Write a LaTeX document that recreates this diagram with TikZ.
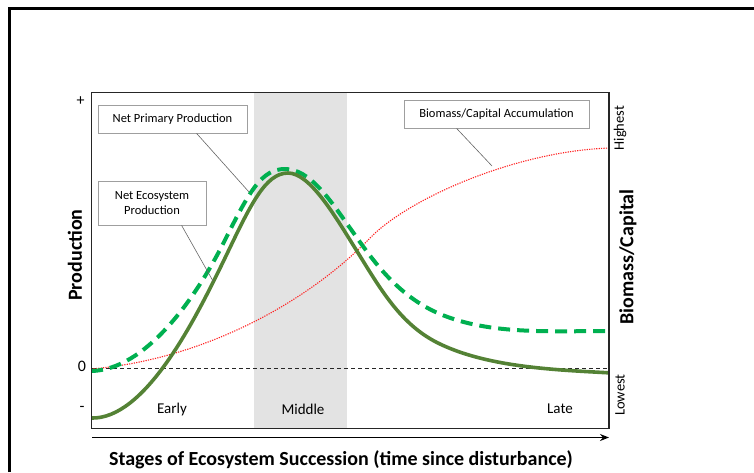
\documentclass[tikz,border=0pt]{standalone}
\usepackage{fontspec}
\setmainfont{Carlito}
\usetikzlibrary{arrows.meta}
\definecolor{nepgreen}{HTML}{548235}
\definecolor{nppgreen}{HTML}{00B050}
\definecolor{bioRed}{HTML}{FF2020}
\definecolor{bandgray}{HTML}{E3E3E3}
\tikzset{
  labelbox/.style={draw=gray!75, line width=0.8pt, fill=white, font=\fontsize{12.5}{15}\selectfont, align=center, inner sep=2pt},
  leader/.style={draw=gray!80!black, line width=0.6pt},
  stagelabel/.style={font=\fontsize{15}{18}\selectfont},
  ticklabel/.style={font=\fontsize{16}{18}\selectfont},
  axistitle/.style={font=\bfseries\fontsize{20}{24}\selectfont},
  endlabel/.style={font=\fontsize{14.5}{17}\selectfont, rotate=90},
  nepcurve/.style={nepgreen, line width=3.6pt},
  nppcurve/.style={nppgreen, line width=4pt, dash pattern=on 12pt off 7pt},
  biocurve/.style={bioRed, line width=1.1pt, dash pattern=on 1.2pt off 1.2pt},
}
\begin{document}
\begin{tikzpicture}[x=1pt,y=-1pt]
\useasboundingbox (0,0) rectangle (754,472);
% outer frame (partly visible)
\draw[line width=3.2pt] (9.5,472) -- (9.5,8.6) -- (754,8.6);
% middle band
\fill[bandgray] (254,92.5) rectangle (347,428.5);
% zero line
\draw[gray!30!black, line width=0.8pt, dash pattern=on 4pt off 3pt] (92,368) -- (609,368);
% curves
\begin{scope}
\clip (91.5,92.5) rectangle (609,428.5);
\draw[biocurve] (91,369) .. controls (200,360) and (305,305) .. (370,238)
  .. controls (410,197) and (520,150) .. (612,148);
\draw[nppcurve] (91,371) .. controls (145,370) and (195,300) .. (225,240)
  .. controls (250,190) and (262,169) .. (285,169)
  .. controls (310,169) and (330,200) .. (350,228)
  .. controls (370,256) and (395,295) .. (440,314)
  .. controls (490,335) and (550,331) .. (612,331);
\draw[nepcurve] (91,418) .. controls (145,420) and (195,320) .. (225,258)
  .. controls (250,206) and (265,173) .. (288,173)
  .. controls (310,173) and (335,216) .. (355,248)
  .. controls (380,288) and (400,325) .. (440,344)
  .. controls (490,368) and (560,370) .. (612,373);
\end{scope}
% plot frame
\draw[line width=1.3pt, black!85] (91.5,92.5) rectangle (609,428.5);
% axis arrow
\coordinate (arrstart) at (92,437.5);
\coordinate (arrend) at (609,437.5);
\draw[line width=1.3pt, -{Stealth[length=9pt,width=7pt]}] (arrstart) -- (arrend);
% tick labels
\node[ticklabel] (plus) at (80.5,101) {+};
\node[ticklabel] (zero) at (82,366) {0};
\node[ticklabel] (minus) at (82,409) {-};
% stage labels
\node[stagelabel] (early) at (172,409) {Early};
\node[stagelabel] (middle) at (303,409) {Middle};
\node[stagelabel] (late) at (560,409) {Late};
% axis titles
\node[axistitle] (xtitle) at (341,460) {Stages of Ecosystem Succession (time since disturbance)};
\node[axistitle, rotate=90] (ytitle) at (75,255) {Production};
\node[axistitle, rotate=90] (y2title) at (628,257) {Biomass/Capital};
\node[endlabel] (highest) at (620,128) {Highest};
\node[endlabel] (lowest) at (620,395) {Lowest};
% label boxes
\node[labelbox, minimum width=149pt, minimum height=28pt] (npp) at (172.5,119) {Net Primary Production};
\node[labelbox, minimum width=108pt, minimum height=44pt] (nep) at (152,203) {Net Ecosystem\\Production};
\node[labelbox, minimum width=185pt, minimum height=28pt] (bio) at (496.5,114) {Biomass/Capital Accumulation};
% leaders
\coordinate (npptip) at (249,192);
\coordinate (neptip) at (213,281);
\coordinate (biotip) at (492,166);
\draw[leader] (npp.south west) ++(99,0) -- (npptip);
\draw[leader] (nep.south west) ++(84,0) -- (neptip);
\draw[leader] (bio.south west) ++(53,0) -- (biotip);
\end{tikzpicture}
\end{document}
